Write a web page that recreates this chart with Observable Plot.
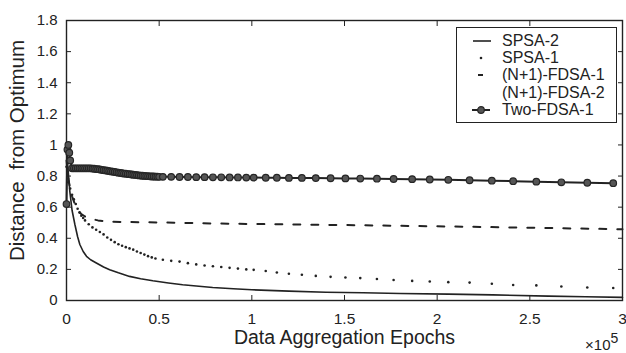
<!DOCTYPE html>
<html><head><meta charset="utf-8">
<script src="https://cdn.jsdelivr.net/npm/d3@7"></script>
<script src="https://cdn.jsdelivr.net/npm/@observablehq/plot@0.6"></script>
<style>
body{margin:0;background:#fff;}
#wrap{position:relative;width:626px;height:353px;font-family:"Liberation Sans",Arial,sans-serif;}
#legend{position:absolute;left:456px;top:27px;width:161px;height:96px;border:1.3px solid #222;background:#fff;box-sizing:border-box;}
.row{position:absolute;left:0;height:16px;font-size:16px;line-height:16px;color:#222;white-space:nowrap;}
.row svg{position:absolute;left:14px;top:0;}
.row span{position:absolute;left:45px;top:0;}
</style></head>
<body>
<div id="wrap"><div id="chart"></div><div id="legend"></div></div>
<script>
// Sampling epochs (x 10^5) for SPSA-1 dots
const epochs = [0,0.005,0.01,0.02,0.03,0.04,0.05,0.06,0.07,0.08,0.09,0.10,
  0.12,0.14,0.16,0.18,0.20,0.22,0.24,0.26,0.28,0.30,0.32,0.34,0.36,0.38,0.40,0.42,0.44,0.46,0.48,
  0.52,0.565,0.61,0.655,0.70,0.745,0.79,0.835,0.88,0.925,0.97,
  1.01,1.075,1.135,1.20,1.27,1.345,1.425,1.505,1.585,1.675,1.765,1.865,1.96,2.06,
  2.175,2.295,2.41,2.535,2.67,2.81,2.95];
const spsa1 = [0.86,0.80,0.76,0.72,0.68,0.65,0.62,0.59,0.565,0.545,0.53,0.515,
  0.49,0.47,0.455,0.44,0.425,0.405,0.39,0.375,0.362,0.352,0.343,0.335,0.327,0.315,0.305,0.295,0.285,0.277,0.27,
  0.262,0.255,0.25,0.24,0.232,0.225,0.22,0.215,0.21,0.205,0.2,
  0.197,0.19,0.18,0.172,0.166,0.158,0.152,0.148,0.144,0.138,0.132,0.126,0.122,0.118,
  0.115,0.108,0.1,0.097,0.09,0.084,0.08];
// Two-FDSA-1 marker epochs (dense at the start)
const twoEpochs = [0,0.005,0.01,0.015,0.02,
  0.03,0.04,0.05,0.06,0.07,0.08,0.09,0.10,0.11,0.12,0.13,
  0.14,0.15,0.16,0.17,0.18,0.19,0.20,0.21,0.22,0.23,0.24,0.25,0.26,0.27,0.28,0.29,0.30,0.31,0.32,0.33,
  0.34,0.35,0.36,0.37,0.38,0.39,0.40,0.41,0.42,0.43,0.44,0.45,0.46,0.47,0.48,0.49,0.50,
  0.52,0.565,0.61,0.655,0.70,0.745,0.79,0.835,0.88,0.925,0.97,
  1.01,1.075,1.135,1.20,1.27,1.345,1.425,1.505,1.585,1.675,1.765,1.865,1.96,2.06,
  2.175,2.295,2.41,2.535,2.67,2.81,2.95];
const twoFdsa1 = [0.62,0.97,1.0,0.95,0.9,
  0.85,0.85,0.85,0.85,0.85,0.85,0.85,0.85,0.85,0.85,0.85,
  0.848,0.847,0.845,0.844,0.842,0.84,0.838,0.836,0.834,0.832,0.83,0.828,0.826,0.824,0.822,0.82,0.818,0.816,0.815,0.813,
  0.812,0.81,0.809,0.807,0.806,0.804,0.803,0.802,0.801,0.8,0.799,0.798,0.797,0.797,0.796,0.796,0.795,
  0.795,0.795,0.794,0.794,0.793,0.793,0.792,0.792,0.791,0.791,0.79,
  0.79,0.789,0.789,0.788,0.788,0.787,0.786,0.785,0.784,0.783,0.781,0.78,0.778,0.776,
  0.773,0.77,0.767,0.764,0.76,0.757,0.754];
const spsa2Epochs = [0,0.01,0.018,0.03,0.045,0.06,0.072,0.09,0.108,0.13,0.161,0.2,0.233,0.28,0.34,0.4,0.466,0.55,0.627,0.7,0.789,0.9,1.0,1.2,1.4,1.6,1.8,2.06,2.3,2.6,2.8,3.0];
const spsa2 = [0.95,0.82,0.70,0.58,0.49,0.41,0.36,0.315,0.284,0.262,0.241,0.215,0.198,0.178,0.155,0.14,0.127,0.113,0.101,0.093,0.084,0.076,0.069,0.06,0.053,0.05,0.045,0.041,0.036,0.028,0.024,0.02];
const fdsa1Epochs = [0,0.01,0.02,0.03,0.045,0.06,0.08,0.1,0.13,0.17,0.22,0.3,0.5,0.8,1.0,1.5,2.0,2.5,3.0];
const fdsa1 = [0.9,0.78,0.72,0.67,0.62,0.585,0.555,0.54,0.525,0.515,0.508,0.505,0.502,0.495,0.492,0.485,0.477,0.468,0.458];
const xTicks = [0,0.5,1,1.5,2,2.5,3];
const yTicks = [0,0.2,0.4,0.6,0.8,1,1.2,1.4,1.6,1.8];
const legendLabels = ["SPSA-2","SPSA-1","(N+1)-FDSA-1","(N+1)-FDSA-2","Two-FDSA-1"];
const xTitle = "Data Aggregation Epochs";
const yTitle = "Distance  from Optimum";

const ink = "#222";
const s1 = epochs.map((x,i)=>({x, y: spsa1[i]}));
const tw = twoEpochs.map((x,i)=>({x, y: twoFdsa1[i]}));
const s2 = spsa2Epochs.map((x,i)=>({x, y: spsa2[i]}));
const f1 = fdsa1Epochs.map((x,i)=>({x, y: fdsa1[i]}));

const chart = Plot.plot({
  width: 626, height: 353,
  marginLeft: 66, marginRight: 4, marginTop: 20, marginBottom: 53,
  x: {domain: [0, 3]},
  y: {domain: [0, 1.8]},
  style: {fontFamily: "'Liberation Sans', Arial, sans-serif", fontSize: "15px", background: "white", color: ink},
  marks: [
    Plot.frame({stroke: ink, strokeWidth: 1.4}),
    Plot.axisY(yTicks, {anchor: "left", tickSize: -5, tickPadding: 14, fontSize: 15, label: null, tickFormat: d => String(d)}),
    Plot.axisY(yTicks, {anchor: "right", tickSize: -5, label: null, tickFormat: () => ""}),
    Plot.axisX(xTicks, {anchor: "bottom", tickSize: -5, tickPadding: 17, fontSize: 15.5, label: null, tickFormat: d => String(d)}),
    Plot.axisX(xTicks, {anchor: "top", tickSize: -5, label: null, tickFormat: () => ""}),
    Plot.line(s2, {x: "x", y: "y", stroke: ink, strokeWidth: 1.6}),
    Plot.line(f1, {x: "x", y: "y", stroke: ink, strokeWidth: 2, strokeDasharray: "7,11"}),
    Plot.dot(s1, {x: "x", y: "y", r: 1.3, fill: ink, stroke: "none"}),
    Plot.line(tw, {x: "x", y: "y", stroke: ink, strokeWidth: 2}),
    Plot.dot(tw, {x: "x", y: "y", r: 3.3, fill: "#555", stroke: "#262626", strokeWidth: 1.2}),
    Plot.text([xTitle], {frameAnchor: "bottom", dy: 43, fontSize: 19.5, text: d => d, fill: ink}),
    Plot.text([yTitle], {frameAnchor: "left", textAnchor: "middle", dx: -49, dy: -10, rotate: -90, fontSize: 20.5, text: d => d, fill: ink}),
    Plot.text(["×10"], {frameAnchor: "bottom-right", textAnchor: "end", lineAnchor: "bottom", dx: -12, dy: 49, fontSize: 15, text: d => d, fill: ink}),
    Plot.text(["5"], {frameAnchor: "bottom-right", textAnchor: "start", lineAnchor: "bottom", dx: -12, dy: 42, fontSize: 14, text: d => d, fill: ink})
  ]
});
document.getElementById("chart").appendChild(chart);
chart.querySelectorAll("text").forEach(t => { t.setAttribute("xml:space", "preserve"); t.style.whiteSpace = "pre"; });

// Legend
const symbols = [
  '<line x1="2" y1="8" x2="20" y2="8" stroke="#222" stroke-width="1.6"/>',
  '<circle cx="10" cy="8" r="1.3" fill="#222"/>',
  '<line x1="7" y1="8" x2="12" y2="8" stroke="#222" stroke-width="2"/>',
  '',
  '<line x1="1" y1="8" x2="19" y2="8" stroke="#222" stroke-width="2"/><circle cx="10" cy="8" r="3.3" fill="#555" stroke="#262626" stroke-width="1.2"/>'
];
const rowTops = [5, 22.2, 39.4, 56.6, 73.8];
const legend = document.getElementById("legend");
legendLabels.forEach((lab, i) => {
  const row = document.createElement("div");
  row.className = "row";
  row.style.top = rowTops[i] + "px";
  row.innerHTML = `<svg width="22" height="16">${symbols[i]}</svg><span></span>`;
  row.querySelector("span").textContent = lab;
  legend.appendChild(row);
});
</script>
</body></html>
